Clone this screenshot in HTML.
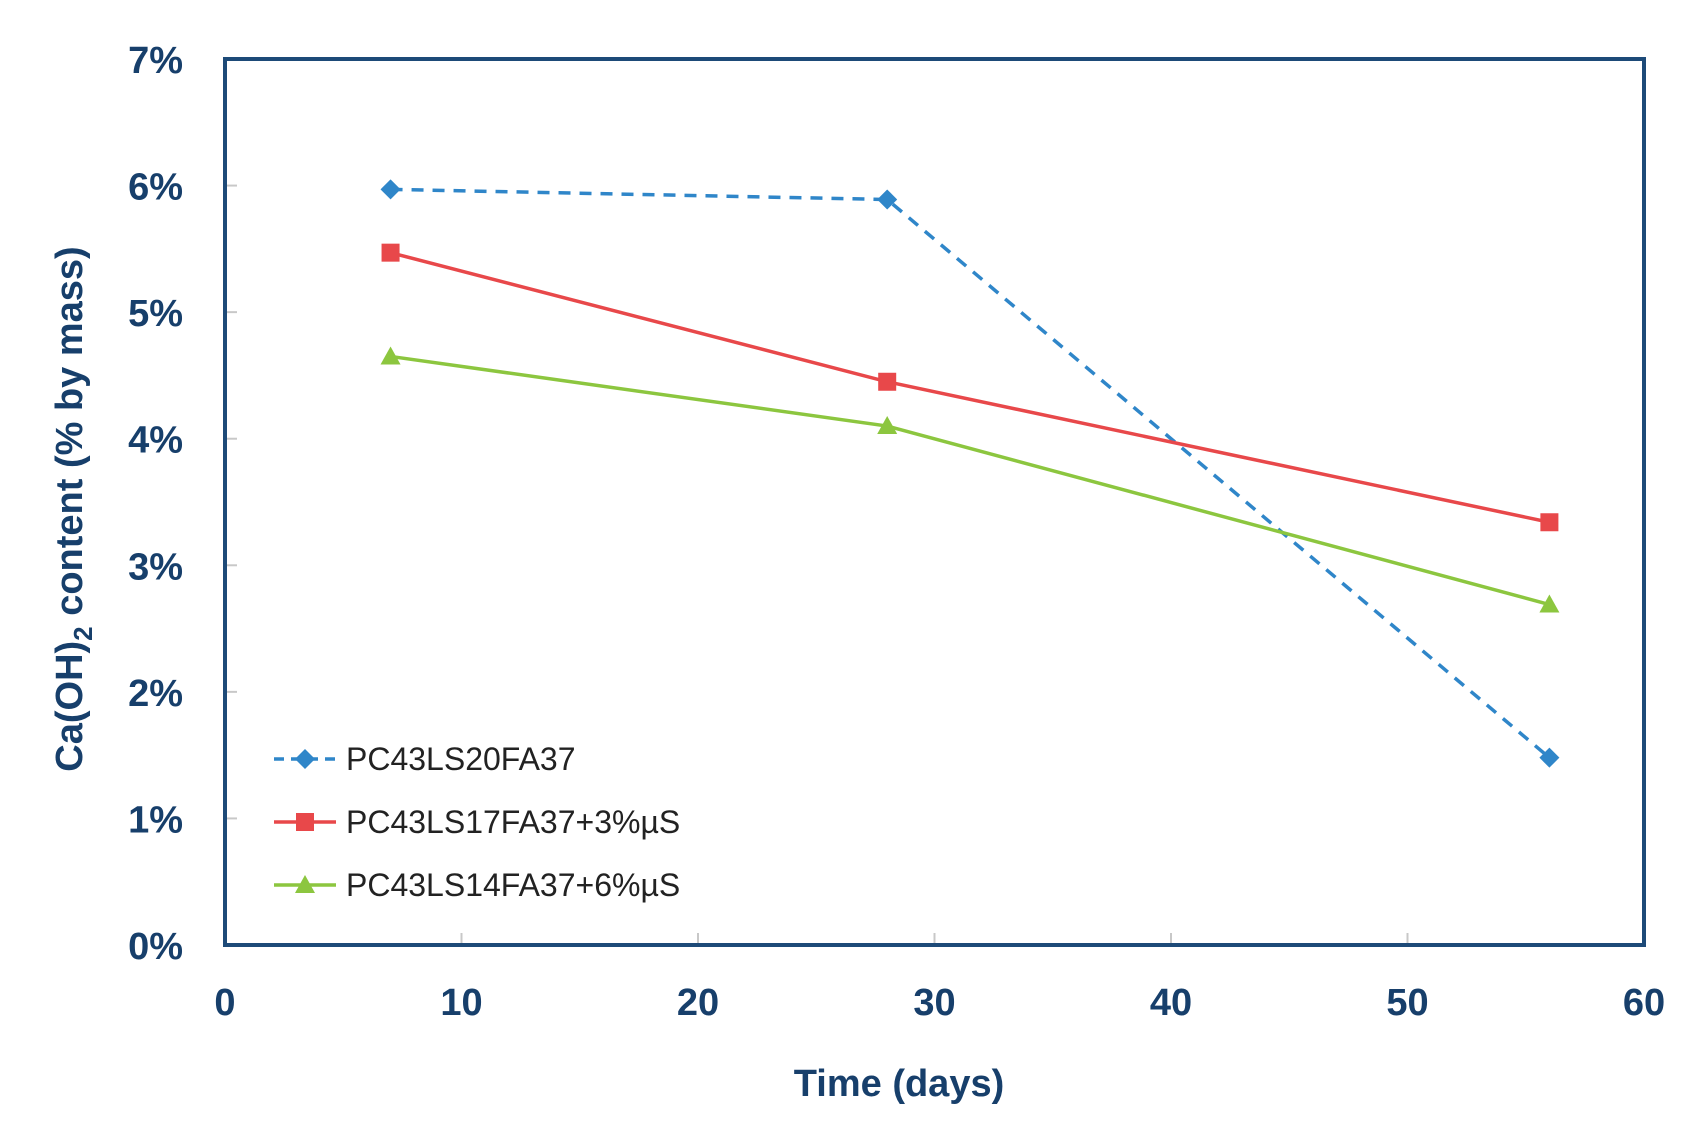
<!DOCTYPE html>
<html><head><meta charset="utf-8"><style>
html,body{margin:0;padding:0;background:#fff;}
svg{display:block;font-family:"Liberation Sans",sans-serif;}
</style></head><body>
<svg id="chart" width="1707" height="1144" viewBox="0 0 1707 1144" xmlns="http://www.w3.org/2000/svg">
<g id="grid"></g>
<g id="series"></g>
<rect x="225" y="59" width="1419" height="886" fill="none" stroke="#1d4a78" stroke-width="4"/>
<g id="yticks" font-size="38" font-weight="bold" fill="#173f6b" text-anchor="end"></g>
<g id="xticks" font-size="38" font-weight="bold" fill="#173f6b" text-anchor="middle"></g>
<text x="899" y="1096" font-size="38" font-weight="bold" fill="#173f6b" text-anchor="middle">Time (days)</text>
<text transform="translate(82,509) rotate(-90)" font-size="38" font-weight="bold" fill="#173f6b" text-anchor="middle">Ca(OH)<tspan font-size="26" dy="10">2</tspan><tspan dy="-10"> content (% by mass)</tspan></text>
<g id="legend" font-size="32" fill="#222"></g>
</svg>
<script>
const xDays = [7, 28, 56];
const seriesNames = ["PC43LS20FA37", "PC43LS17FA37+3%µS", "PC43LS14FA37+6%µS"];
const blueVals = [5.97, 5.89, 1.48];
const redVals = [5.47, 4.45, 3.34];
const greenVals = [4.65, 4.10, 2.69];
const yTickVals = [0,1,2,3,4,5,6,7];
const xTickVals = [0,10,20,30,40,50,60];

const NS="http://www.w3.org/2000/svg";
const X0=225,X1=1644,Y0=945,Y1=59;
const xs=v=>X0+(v/60)*(X1-X0);
const ys=v=>Y0-(v/7)*(Y0-Y1);
function mk(tag,attrs,parent){const e=document.createElementNS(NS,tag);for(const k in attrs)e.setAttribute(k,attrs[k]);parent.appendChild(e);return e;}
const grid=document.getElementById('grid'),yt=document.getElementById('yticks'),xt=document.getElementById('xticks'),ser=document.getElementById('series'),leg=document.getElementById('legend');
yTickVals.forEach(v=>{
  if(v>0&&v<7){const t=mk('line',{x1:X0,x2:X0+12,y1:ys(v),y2:ys(v),stroke:'#c8c8c8','stroke-width':2},grid);
  
  }
  const l=mk('text',{x:183,y:ys(v)+14},yt);l.textContent=v+'%';
  
  
});
xTickVals.forEach(v=>{
  if(v>0&&v<60){const t=mk('line',{x1:xs(v),x2:xs(v),y1:Y0,y2:Y0-12,stroke:'#c8c8c8','stroke-width':2},grid);
  
  }
  const l=mk('text',{x:xs(v),y:1015},xt);l.textContent=v;
  
  
});
const defs=[
 {vals:blueVals,color:'#2f86c9',dash:'12,9',marker:'diamond'},
 {vals:redVals,color:'#e8484a',dash:'',marker:'square'},
 {vals:greenVals,color:'#8cc63f',dash:'',marker:'triangle'}];
function marker(type,cx,cy,color,parent){
  let e;
  if(type==='diamond')e=mk('polygon',{points:`${cx},${cy-10} ${cx+10},${cy} ${cx},${cy+10} ${cx-10},${cy}`,fill:color},parent);
  else if(type==='square')e=mk('rect',{x:cx-9,y:cy-9,width:18,height:18,fill:color},parent);
  else e=mk('polygon',{points:`${cx},${cy-10} ${cx+10},${cy+8} ${cx-10},${cy+8}`,fill:color},parent);
  return e;
}
defs.forEach((d,i)=>{
  const pts=d.vals.map((v,j)=>xs(xDays[j])+','+ys(v)).join(' ');
  const pl=mk('polyline',{points:pts,fill:'none',stroke:d.color,'stroke-width':3.5,'stroke-dasharray':d.dash},ser);
  
  
  d.vals.forEach((v,j)=>{const m=marker(d.marker,xs(xDays[j]),ys(v),d.color,ser);
    
    });
  const ly=759+i*63;
  const ll=mk('line',{x1:274,x2:336,y1:ly,y2:ly,stroke:d.color,'stroke-width':3.5,'stroke-dasharray':d.dash?'10,7':''},leg);
  
  
  const lm=marker(d.marker,305,ly,d.color,leg);
  
  
  const lt=mk('text',{x:346,y:ly+11},leg);lt.textContent=seriesNames[i];
  
  
});
</script>
</body></html>
